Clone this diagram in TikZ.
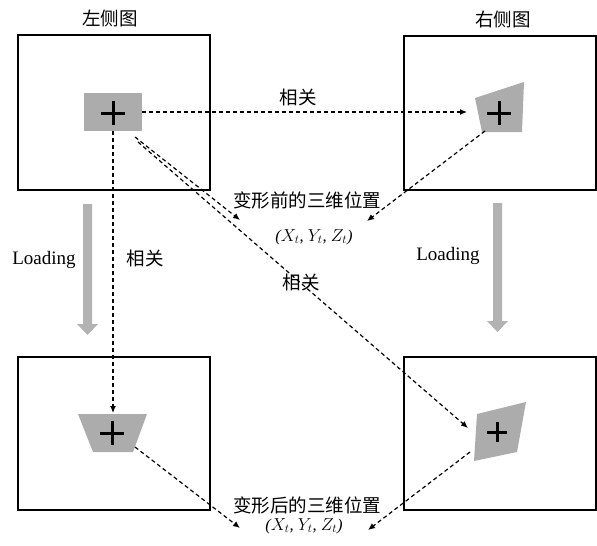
\documentclass[tikz,border=0pt]{standalone}
\usepackage{fontspec}
\setmainfont{Liberation Serif}
\newfontfamily\cjk{Noto Sans CJK SC}
\usetikzlibrary{arrows.meta}
\begin{document}
\begin{tikzpicture}[x=1pt,y=-1pt,
  frame/.style={draw=black,line width=1.4pt},
  patch/.style={fill=gray!65,draw=none},
  crossline/.style={line width=3pt,black},
  conn/.style={line width=1.2pt,dash pattern=on 4pt off 3pt,-{Latex[length=7pt,width=6pt]}},
  cjklab/.style={font=\cjk\fontsize{18.5}{18.5}\selectfont,inner sep=0pt},
  latlab/.style={font=\fontsize{19}{19}\selectfont,inner sep=0pt},
  coordlab/.style={font=\fontsize{16.5}{16.5}\selectfont\itshape,inner sep=0pt},
  loadarrow/.style={fill=gray!60,draw=none}]
\useasboundingbox (0,0) rectangle (597,546);
% frames
\draw[frame] (18,35) rectangle (210,190);
\draw[frame] (404,36) rectangle (596,190);
\draw[frame] (18,357) rectangle (210,510);
\draw[frame] (404,357) rectangle (596,510);
% titles
\node[cjklab] (tl) at (110,18) {左侧图};
\node[cjklab] (tr) at (503,19) {右侧图};
% patches
\fill[patch] (84,93) rectangle (142,131);
\fill[patch] (475,98) -- (524,82) -- (522,132) -- (482,132) -- cycle;
\fill[patch] (78,414) -- (147,414) -- (133,452) -- (93,452) -- cycle;
\fill[patch] (477,414) -- (526,402) -- (517,452) -- (474,461) -- cycle;
% crosses
\draw[crossline] (101,113) -- (125,113) (113,101) -- (113,125);
\draw[crossline] (487,113) -- (511,113) (499,101) -- (499,125);
\draw[crossline] (100,433) -- (124,433) (112,421) -- (112,445);
\draw[crossline] (487,432) -- (507,432) (497,422) -- (497,442);
% anchor coordinates
\coordinate (lpR) at (142,112);
\coordinate (rpL) at (467,112);
\coordinate (lpB) at (113,131);
\coordinate (blT) at (113,413);
\coordinate (lpD1) at (135,137);
\coordinate (lpD2) at (138,142);
\coordinate (brL) at (468,428);
\coordinate (rpB) at (485,131);
\coordinate (blR) at (135,447);
\coordinate (brB) at (470,452);
\coordinate (preL) at (240,220);
\coordinate (preR) at (367,221);
\coordinate (postL) at (240,528);
\coordinate (postR) at (368,530);
% connectors
\draw[conn] (lpR) -- (rpL);
\draw[conn] (lpB) -- (blT);
\draw[conn] (lpD1) -- (preL);
\draw[conn] (lpD2) -- (brL);
\draw[conn] (rpB) -- (preR);
\draw[conn] (blR) -- (postL);
\draw[conn] (brB) -- (postR);
% labels
\node[cjklab] (c1) at (298,97) {相关};
\node[cjklab] (c2) at (145,258) {相关};
\node[cjklab] (c3) at (301,282) {相关};
\node[cjklab] (pre) at (307,200) {变形前的三维位置};
\node[coordlab] (prec) at (314,237) {($X_t$, $Y_t$, $Z_t$)};
\node[cjklab] (post) at (307,505) {变形后的三维位置};
\node[coordlab] (postc) at (304,526) {($X_t$, $Y_t$, $Z_t$)};
\node[latlab] (ld1) at (44,260) {Loading};
\node[latlab] (ld2) at (448,256) {Loading};
% loading arrows
\fill[loadarrow] (83,204) -- (92,204) -- (92,324) -- (98,324) -- (87.5,335) -- (77,324) -- (83,324) -- cycle;
\fill[loadarrow] (493,203) -- (502,203) -- (502,321) -- (508,321) -- (497.5,332) -- (487,321) -- (493,321) -- cycle;
\end{tikzpicture}
\end{document}
